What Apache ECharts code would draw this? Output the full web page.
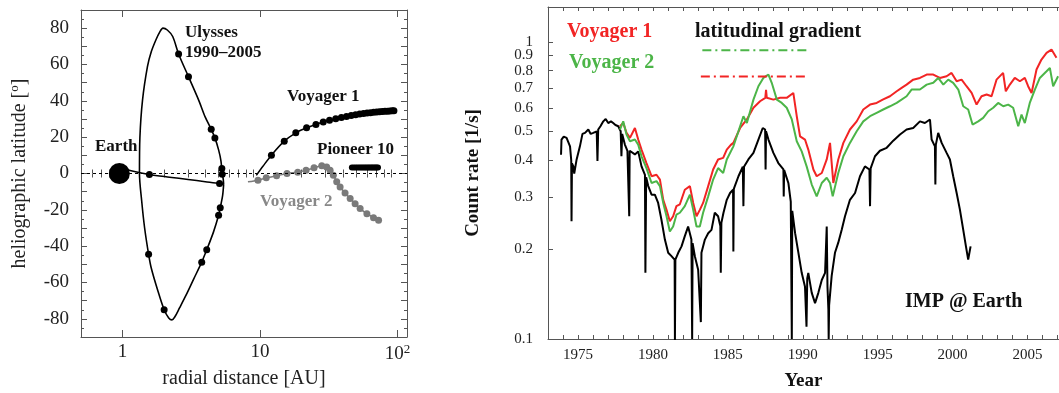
<!DOCTYPE html>
<html>
<head>
<meta charset="utf-8">
<script src="https://cdn.jsdelivr.net/npm/echarts@6/dist/echarts.min.js"></script>
<style>html,body{margin:0;padding:0;background:#fff;}#c{width:1059px;height:393px;}</style>
</head>
<body>
<div id="c"></div>
<script>
// ---------- Left panel data: [radial distance AU, heliographic latitude deg] ----------
const earthPos = [[0.95, 0]];
const ulyssesTransfer = [[1.05,2.5],[1.2,1.2],[1.57,-0.5],[2.2,-2],[3.0,-3.3],[4.0,-4.5],[5.08,-5.5],[5.44,-6]];
const ulyssesLoop = [[5.44,-6],[5.35,-12],[5.14,-18.8],[5.0,-23],[4.6,-32],[4.1,-42],[3.77,-48.8],[3.3,-58],[2.9,-67],[2.6,-74],[2.4,-79],[2.29,-80.6],[2.17,-79.5],[2.01,-75],[1.8,-64],[1.62,-52],[1.55,-44.5],[1.45,-30],[1.38,-15],[1.33,0],[1.34,20],[1.40,40.4],[1.52,58.8],[1.62,67],[1.75,73.5],[1.87,78],[1.97,80],[2.12,79],[2.32,75.4],[2.56,65.8],[3.02,53.3],[3.6,40],[4.0,31],[4.42,24.3],[4.7,19.6],[5.0,13],[5.2,7],[5.31,0],[5.4,-3],[5.44,-6]];
const ulyssesDots = [[1.57,-0.5],[5.08,-5.5],[5.14,-18.8],[5.0,-23],[4.1,-42],[3.77,-48.8],[2.01,-75],[1.55,-44.5],[2.56,65.8],[3.02,53.3],[4.42,24.3],[4.7,19.6],[5.28,2.8],[5.31,-0.4]];
const voyager1Track = [[9.4,-1],[10.5,4],[12.1,10.1],[15.0,17.8],[18.2,22.4],[21.8,25.2],[25.5,27],[28.8,28.3],[32,29.3],[35.5,30.1],[39,30.8],[42.5,31.4],[46,31.9],[49.5,32.3],[53,32.7],[56.5,33.0],[60,33.3],[63.5,33.5],[67,33.7],[70.5,33.9],[74,34.0],[77.5,34.1],[81,34.2],[84.5,34.3],[88,34.4],[91.5,34.5],[94,34.5]];
const voyager2Track = [[8.17,-4.6],[9.66,-3.7],[11.1,-2.4],[13.2,-1.3],[15.7,0],[18.8,0.7],[21.6,1.8],[24.7,3.1],[28.1,4.2],[30.5,3.6],[32.3,1.8],[34.1,-0.9],[36.1,-4.6],[38.2,-7.4],[41.5,-10.7],[45.2,-13.8],[49.1,-16.6],[53.4,-19.3],[59.8,-22.1],[66.8,-24.3],[72.7,-25.8]];
const pioneer10Track = [[46.5,3.3],[48,3.3],[49.5,3.3],[51,3.3],[52.5,3.3],[54,3.3],[55.5,3.3],[57,3.3],[58.5,3.3],[60,3.3],[61.5,3.3],[63,3.3],[64.5,3.3],[66,3.3],[67.5,3.3],[69,3.3],[70.5,3.3],[72,3.3]];
const radialLabels = [1, 10, 100];
const radialMinor = [0.6,0.7,0.8,0.9,2,3,4,5,6,7,8,9,20,30,40,50,60,70,80,90];

// ---------- Right panel data: [year, count rate 1/s] ----------
const impEarth = [[1973.87,0.417],[1973.9,0.469],[1974.05,0.48],[1974.24,0.475],[1974.47,0.445],[1974.55,0.40],[1974.57,0.249],[1974.6,0.39],[1974.69,0.381],[1974.75,0.36],[1974.91,0.402],[1975.13,0.445],[1975.3,0.49],[1975.47,0.494],[1975.69,0.507],[1975.85,0.49],[1976.02,0.494],[1976.25,0.5],[1976.3,0.397],[1976.35,0.507],[1976.5,0.52],[1976.69,0.540],[1976.85,0.55],[1977.02,0.533],[1977.2,0.54],[1977.35,0.533],[1977.5,0.525],[1977.69,0.520],[1977.85,0.50],[1977.9,0.412],[1977.95,0.49],[1978.13,0.451],[1978.3,0.43],[1978.42,0.259],[1978.45,0.43],[1978.57,0.434],[1978.8,0.418],[1979.02,0.428],[1979.24,0.381],[1979.47,0.357],[1979.5,0.167],[1979.55,0.35],[1979.69,0.327],[1979.91,0.306],[1980.13,0.306],[1980.35,0.287],[1980.57,0.252],[1980.8,0.216],[1981.02,0.195],[1981.24,0.190],[1981.45,0.185],[1981.47,0.099],[1981.5,0.185],[1981.69,0.195],[1981.91,0.205],[1982.13,0.222],[1982.35,0.239],[1982.57,0.216],[1982.62,0.1],[1982.65,0.21],[1982.8,0.190],[1983.02,0.171],[1983.2,0.114],[1983.24,0.195],[1983.47,0.216],[1983.69,0.227],[1983.91,0.233],[1984.13,0.266],[1984.35,0.259],[1984.5,0.24],[1984.53,0.167],[1984.57,0.246],[1984.71,0.266],[1984.93,0.294],[1985.15,0.31],[1985.35,0.318],[1985.37,0.197],[1985.4,0.32],[1985.71,0.353],[1986.0,0.38],[1986.04,0.28],[1986.08,0.38],[1986.37,0.402],[1986.71,0.423],[1987.04,0.469],[1987.33,0.513],[1987.49,0.507],[1987.52,0.372],[1987.55,0.5],[1987.71,0.469],[1988.04,0.423],[1988.37,0.391],[1988.71,0.372],[1988.73,0.302],[1988.76,0.37],[1989.04,0.335],[1989.2,0.29],[1989.27,0.1],[1989.3,0.27],[1989.49,0.227],[1989.71,0.195],[1989.93,0.167],[1990.15,0.150],[1990.25,0.11],[1990.3,0.16],[1990.37,0.167],[1990.6,0.143],[1990.82,0.132],[1991.04,0.143],[1991.27,0.158],[1991.49,0.167],[1991.6,0.239],[1991.65,0.15],[1991.71,0.126],[1991.73,0.1],[1991.76,0.13],[1991.93,0.163],[1992.15,0.195],[1992.37,0.211],[1992.6,0.233],[1992.82,0.259],[1993.15,0.294],[1993.49,0.310],[1993.82,0.353],[1994.15,0.381],[1994.45,0.372],[1994.49,0.28],[1994.53,0.375],[1994.82,0.412],[1995.15,0.43],[1995.6,0.44],[1996.04,0.465],[1996.49,0.488],[1996.93,0.507],[1997.37,0.513],[1997.82,0.540],[1998.15,0.533],[1998.49,0.548],[1998.6,0.469],[1998.82,0.445],[1998.85,0.331],[1998.88,0.45],[1999.04,0.494],[1999.27,0.457],[1999.6,0.423],[1999.82,0.402],[2000.04,0.353],[2000.27,0.310],[2000.49,0.272],[2000.71,0.233],[2000.89,0.205],[2001.04,0.185],[2001.2,0.205]];
const voyager1Rate = [[1977.8,0.52],[1978.02,0.533],[1978.24,0.494],[1978.47,0.475],[1978.8,0.513],[1979.02,0.469],[1979.24,0.434],[1979.57,0.391],[1979.91,0.353],[1980.24,0.357],[1980.47,0.344],[1980.69,0.294],[1980.91,0.272],[1981.13,0.249],[1981.35,0.259],[1981.57,0.280],[1981.8,0.284],[1982.13,0.318],[1982.47,0.327],[1982.69,0.287],[1982.91,0.259],[1983.13,0.272],[1983.35,0.287],[1983.69,0.327],[1984.02,0.372],[1984.35,0.402],[1984.69,0.407],[1984.93,0.434],[1985.2,0.45],[1985.37,0.457],[1985.82,0.513],[1986.27,0.548],[1986.71,0.600],[1987.15,0.631],[1987.5,0.648],[1987.55,0.69],[1987.6,0.648],[1988.04,0.639],[1988.49,0.648],[1988.93,0.648],[1989.37,0.673],[1989.6,0.562],[1989.82,0.481],[1990.15,0.469],[1990.37,0.434],[1990.71,0.372],[1990.93,0.353],[1991.27,0.362],[1991.6,0.402],[1991.82,0.457],[1992.04,0.335],[1992.37,0.402],[1992.71,0.457],[1993.15,0.507],[1993.6,0.540],[1994.04,0.592],[1994.49,0.615],[1994.93,0.623],[1995.37,0.64],[1995.82,0.656],[1996.27,0.682],[1996.6,0.70],[1996.93,0.718],[1997.37,0.746],[1997.82,0.756],[1998.27,0.776],[1998.71,0.776],[1999.15,0.756],[1999.6,0.766],[1999.93,0.786],[2000.27,0.737],[2000.6,0.746],[2000.93,0.709],[2001.27,0.673],[2001.6,0.615],[2001.93,0.656],[2002.27,0.665],[2002.6,0.656],[2002.93,0.746],[2003.37,0.786],[2003.55,0.682],[2003.82,0.718],[2004.15,0.756],[2004.49,0.737],[2004.82,0.756],[2005.04,0.709],[2005.27,0.673],[2005.6,0.807],[2005.93,0.872],[2006.27,0.918],[2006.6,0.942],[2006.93,0.884]];
const voyager2Rate = [[1977.8,0.507],[1978.02,0.540],[1978.24,0.488],[1978.47,0.463],[1978.8,0.469],[1979.02,0.451],[1979.24,0.412],[1979.57,0.376],[1979.91,0.335],[1980.24,0.340],[1980.47,0.327],[1980.69,0.287],[1980.91,0.259],[1981.13,0.230],[1981.35,0.239],[1981.57,0.262],[1981.8,0.266],[1982.13,0.280],[1982.47,0.306],[1982.69,0.272],[1982.91,0.239],[1983.13,0.239],[1983.35,0.266],[1983.69,0.302],[1984.02,0.344],[1984.35,0.376],[1984.69,0.362],[1984.93,0.402],[1985.37,0.445],[1985.71,0.500],[1986.04,0.562],[1986.27,0.533],[1986.71,0.639],[1987.04,0.709],[1987.37,0.756],[1987.71,0.776],[1987.93,0.728],[1988.27,0.639],[1988.6,0.623],[1988.93,0.600],[1989.27,0.548],[1989.6,0.463],[1989.93,0.428],[1990.26,0.381],[1990.6,0.331],[1990.93,0.302],[1991.27,0.335],[1991.6,0.349],[1991.82,0.335],[1992.0,0.302],[1992.37,0.362],[1992.71,0.412],[1993.15,0.457],[1993.6,0.500],[1994.04,0.540],[1994.49,0.562],[1994.93,0.577],[1995.37,0.592],[1995.82,0.607],[1996.27,0.623],[1996.93,0.656],[1997.26,0.691],[1997.82,0.691],[1998.27,0.718],[1998.71,0.728],[1999.04,0.756],[1999.38,0.718],[1999.71,0.746],[2000.04,0.728],[2000.38,0.691],[2000.71,0.607],[2001.04,0.592],[2001.33,0.527],[2001.71,0.540],[2002.04,0.555],[2002.38,0.584],[2002.71,0.600],[2003.04,0.623],[2003.38,0.607],[2003.71,0.615],[2004.04,0.600],[2004.38,0.520],[2004.6,0.569],[2004.82,0.533],[2005.15,0.623],[2005.49,0.691],[2005.82,0.756],[2006.27,0.796],[2006.49,0.817],[2006.71,0.709],[2007.04,0.766]];
const gradientV2 = [[1983.3,0.937],[1990.45,0.937]];
const gradientV1 = [[1983.2,0.764],[1990.2,0.764]];
const yearLabels = [1975,1980,1985,1990,1995,2000,2005];
const yearTicks = [1974,1975,1976,1977,1978,1979,1980,1981,1982,1983,1984,1985,1986,1987,1988,1989,1990,1991,1992,1993,1994,1995,1996,1997,1998,1999,2000,2001,2002,2003,2004,2005,2006,2007];
const rateLabels = [0.1,0.2,0.3,0.4,0.5,0.6,0.7,0.8,1];
const rateLabelsExtra = [0.9];
const rateTicks = [0.1,0.2,0.3,0.4,0.5,0.6,0.7,0.8,0.9,1];

const FONT = 'Liberation Serif';
const frame = {show:true, onZero:false, lineStyle:{color:'#555', width:1}};
const tickStyle = {color:'#555', width:1};

const chart = echarts.init(document.getElementById('c'), null, {renderer:'canvas'});

function radialFmt(v){ if (Math.abs(v-100) < 1e-6) return '10{s|2}'; return String(Math.round(v)); }
function rateFmt(v){ return String(+(+v).toFixed(1)); }

const option = {
  animation:false,
  backgroundColor:'#fff',
  grid:[
    {left:81, top:10, width:326, height:327, containLabel:false, outerBoundsMode:'none', show:false},
    {left:548, top:7, right:0, height:332, containLabel:false, outerBoundsMode:'none', show:false}
  ],
  xAxis:[
    {gridIndex:0, type:'log', logBase:10, min:0.5, max:117, position:'bottom',
     axisLine:frame, splitLine:{show:false},
     axisTick:{show:true, inside:true, length:7, customValues:radialLabels, lineStyle:tickStyle},
     axisLabel:{customValues:radialLabels, formatter:radialFmt, margin:6, fontSize:19, color:'#222', fontFamily:FONT, hideOverlap:false,
       showMinLabel:true, showMaxLabel:true,
       rich:{s:{fontSize:13, fontFamily:FONT, color:'#222', verticalAlign:'top', padding:[0,0,10,0]}}},
     name:'radial distance [AU]', nameLocation:'middle', nameGap:31,
     nameTextStyle:{fontSize:20, color:'#222', fontFamily:FONT}},
    {gridIndex:0, type:'log', logBase:10, min:0.5, max:117, position:'bottom',
     axisLine:{show:false}, splitLine:{show:false}, axisLabel:{show:false},
     axisTick:{show:true, inside:true, length:4, customValues:radialMinor, lineStyle:tickStyle}},
    {gridIndex:0, type:'log', logBase:10, min:0.5, max:117, position:'top',
     axisLine:frame, splitLine:{show:false}, axisLabel:{show:false},
     axisTick:{show:true, inside:true, length:7, customValues:radialLabels, lineStyle:tickStyle}},
    {gridIndex:0, type:'log', logBase:10, min:0.5, max:117, position:'top',
     axisLine:{show:false}, splitLine:{show:false}, axisLabel:{show:false},
     axisTick:{show:true, inside:true, length:4, customValues:radialMinor, lineStyle:tickStyle}},
    {gridIndex:1, type:'value', min:1973, max:2007.1, position:'bottom',
     axisLine:frame, splitLine:{show:false},
     axisTick:{show:true, inside:true, length:4, customValues:yearTicks, lineStyle:tickStyle},
     axisLabel:{customValues:yearLabels, formatter:function(v){return String(Math.round(v));}, hideOverlap:false,
       showMinLabel:true, showMaxLabel:true,
       margin:9, fontSize:15, color:'#222', fontFamily:FONT},
     name:'Year', nameLocation:'middle', nameGap:33,
     nameTextStyle:{fontSize:19, fontWeight:'bold', color:'#111', fontFamily:FONT}},
    {gridIndex:1, type:'value', min:1973, max:2007.1, position:'top',
     axisLine:frame, splitLine:{show:false}, axisLabel:{show:false},
     axisTick:{show:true, inside:true, length:4, customValues:yearTicks, lineStyle:tickStyle}}
  ],
  yAxis:[
    {gridIndex:0, type:'value', min:-90, max:90, interval:10, position:'left',
     axisLine:frame, splitLine:{show:false},
     axisTick:{show:true, inside:true, length:6, lineStyle:tickStyle},
     minorTick:{show:true, splitNumber:2, length:3, lineStyle:tickStyle},
     axisLabel:{formatter:function(v){return (Math.round(v)%20===0 && Math.abs(v)<=80) ? String(Math.round(v)) : '';},
       margin:12, fontSize:19, color:'#222', fontFamily:FONT, hideOverlap:false},
     name:'heliographic latitude [{s|o}]', nameLocation:'middle', nameGap:50,
     nameTextStyle:{fontSize:20, color:'#222', fontFamily:FONT,
       rich:{s:{fontSize:13, color:'#222', fontFamily:FONT, verticalAlign:'top', padding:[0,0,10,0]}}}},
    {gridIndex:0, type:'value', min:-90, max:90, interval:10, position:'right',
     axisLine:frame, splitLine:{show:false}, axisLabel:{show:false},
     axisTick:{show:true, inside:true, length:6, lineStyle:tickStyle},
     minorTick:{show:true, splitNumber:2, length:3, lineStyle:tickStyle}},
    {gridIndex:1, type:'log', logBase:10, min:0.1, max:1.31, position:'left',
     axisLine:frame, splitLine:{show:false},
     axisTick:{show:true, inside:true, length:5, customValues:rateTicks, lineStyle:tickStyle},
     axisLabel:{customValues:rateLabels, formatter:rateFmt, hideOverlap:false,
       showMinLabel:true, showMaxLabel:true,
       margin:15, fontSize:15, color:'#222', fontFamily:FONT},
     name:'Count rate [1/s]', nameLocation:'middle', nameGap:65,
     nameTextStyle:{fontSize:19, fontWeight:'bold', color:'#111', fontFamily:FONT}},
    {gridIndex:1, type:'log', logBase:10, min:0.1, max:1.31, position:'left',
     axisLine:{show:false}, splitLine:{show:false}, axisTick:{show:false},
     axisLabel:{customValues:rateLabelsExtra, formatter:rateFmt, hideOverlap:false,
       showMinLabel:true, showMaxLabel:true,
       margin:15, fontSize:15, color:'#222', fontFamily:FONT}}
  ],
  series:[
    {name:'Earth', type:'scatter', xAxisIndex:0, yAxisIndex:0, data:earthPos, symbolSize:21,
     itemStyle:{color:'#000', opacity:1}, z:5,
     markLine:{silent:true, symbol:['none','none'], label:{show:false},
       lineStyle:{color:'#000', type:[3,3], width:1.2}, data:[{yAxis:0}]}},
    {name:'Ulysses transfer', type:'line', xAxisIndex:0, yAxisIndex:0, data:ulyssesTransfer, smooth:0.3,
     showSymbol:false, lineStyle:{color:'#000', width:1.5}},
    {name:'Ulysses', type:'line', xAxisIndex:0, yAxisIndex:0, data:ulyssesLoop, smooth:0.3,
     showSymbol:false, lineStyle:{color:'#000', width:1.6}},
    {name:'Ulysses dots', type:'scatter', xAxisIndex:0, yAxisIndex:0, data:ulyssesDots, symbolSize:7,
     itemStyle:{color:'#000', opacity:1}},
    {name:'Voyager 2 track', type:'line', xAxisIndex:0, yAxisIndex:0,
     data:voyager2Track.map((p,i)=> i===0 ? {value:p, symbol:'none'} : p),
     smooth:0.3, symbol:'circle', symbolSize:7, showAllSymbol:true,
     lineStyle:{color:'#7a7a7a', width:1.5}, itemStyle:{color:'#7a7a7a', borderWidth:0, opacity:1}},
    {name:'Voyager 1 track', type:'line', xAxisIndex:0, yAxisIndex:0,
     data:voyager1Track.map((p,i)=> (i===0||i===1) ? {value:p, symbol:'none'} : p),
     smooth:0.3, symbol:'circle', symbolSize:7, showAllSymbol:true,
     lineStyle:{color:'#000', width:1.5}, itemStyle:{color:'#000', borderWidth:0, opacity:1}},
    {name:'Pioneer 10 track', type:'scatter', xAxisIndex:0, yAxisIndex:0, data:pioneer10Track, symbolSize:6,
     itemStyle:{color:'#000', opacity:1}},

    {name:'IMP @ Earth', type:'line', xAxisIndex:4, yAxisIndex:2, data:impEarth, showSymbol:false,
     lineStyle:{color:'#000', width:2}},
    {name:'Voyager 1', type:'line', xAxisIndex:4, yAxisIndex:2, data:voyager1Rate, showSymbol:false,
     lineStyle:{color:'#f22424', width:2}},
    {name:'Voyager 2', type:'line', xAxisIndex:4, yAxisIndex:2, data:voyager2Rate, showSymbol:false,
     lineStyle:{color:'#4cb548', width:2}},
    {name:'gradient V2', type:'line', xAxisIndex:4, yAxisIndex:2, data:gradientV2, showSymbol:false,
     lineStyle:{color:'#4cb548', width:2, type:[9,4,2,4]}},
    {name:'gradient V1', type:'line', xAxisIndex:4, yAxisIndex:2, data:gradientV1, showSymbol:false,
     lineStyle:{color:'#f22424', width:2, type:[9,4,2,4]}}
  ],
  graphic:[
    {type:'text', left:185, top:24, style:{text:'Ulysses', font:'bold 17px "Liberation Serif"', fill:'#111'}},
    {type:'text', left:185, top:44, style:{text:'1990\u20132005', font:'bold 17px "Liberation Serif"', fill:'#111'}},
    {type:'text', left:287, top:88, style:{text:'Voyager 1', font:'bold 17px "Liberation Serif"', fill:'#111'}},
    {type:'text', left:95, top:138, style:{text:'Earth', font:'bold 17px "Liberation Serif"', fill:'#111'}},
    {type:'text', left:317, top:141, style:{text:'Pioneer 10', font:'bold 17px "Liberation Serif"', fill:'#111'}},
    {type:'text', left:260, top:193, style:{text:'Voyager 2', font:'bold 17px "Liberation Serif"', fill:'#888'}},
    {type:'text', left:567, top:22, style:{text:'Voyager 1', font:'bold 20px "Liberation Serif"', fill:'#f22424'}},
    {type:'text', left:569, top:53, style:{text:'Voyager 2', font:'bold 20px "Liberation Serif"', fill:'#4cb548'}},
    {type:'text', left:695, top:22, style:{text:'latitudinal gradient', font:'bold 20px "Liberation Serif"', fill:'#111'}},
    {type:'text', left:905, top:292, style:{text:'IMP @ Earth', font:'bold 20px "Liberation Serif"', fill:'#111'}}
  ]
};
chart.setOption(option);
</script>
</body>
</html>
